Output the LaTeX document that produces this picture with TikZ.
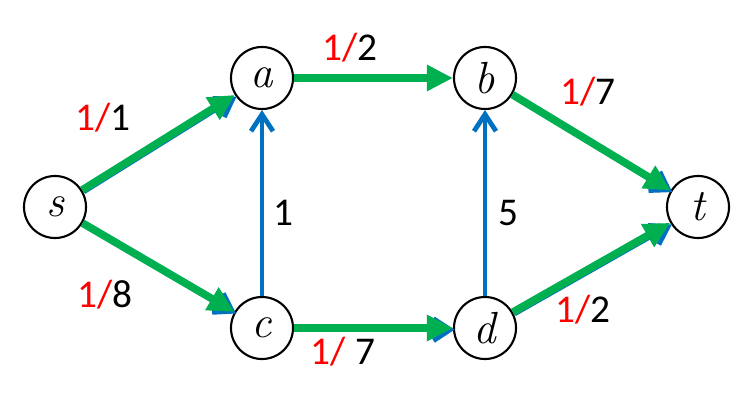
\documentclass[tikz,border=0pt]{standalone}
\usepackage{fontspec}
\newfontfamily\labelfont{Carlito}
\usetikzlibrary{arrows.meta}
\definecolor{flowGreen}{RGB}{0,176,80}
\definecolor{capBlue}{RGB}{0,112,192}
\definecolor{flowRed}{RGB}{255,0,0}
\tikzset{
  vertex/.style={circle,draw=black,line width=1.5pt,minimum size=1.55cm,inner sep=0pt,
    font=\fontsize{32}{32}\selectfont\itshape},
  capedge/.style={draw=capBlue,line width=3.4pt,-{Straight Barb[length=0.42cm,width=0.55cm,line width=3.4pt]}},
  flowedge/.style={draw=flowGreen,line width=5.5pt,-{Triangle[length=0.65cm,width=0.62cm]}},
  weight/.style={font=\labelfont\fontsize{28}{28}\selectfont,inner sep=0pt}
}
\newcommand{\fl}[1]{\textcolor{flowRed}{1/}#1}

\begin{document}
\begin{tikzpicture}[x=0.025cm,y=-0.025cm]
		\useasboundingbox (0,0) rectangle (754,400);
		
		% Vertices
		\begin{scope}[every node/.style={vertex}]
			\node (s) at (55,207) {s};
			\node (a) at (262,78) {a};
			\node (b) at (485,78) {b};
			\node (c) at (262,328) {c};
			\node (d) at (485,328) {d};
			\node (t) at (698,207) {t};
		\end{scope}
		
		% Capacities
		\begin{scope}[transform canvas={xshift=1.2pt,yshift=-1.2pt}]
			\path [capedge] (s) edge (a);
			\path [capedge] (s) edge (c);
			\path [capedge] (b) edge (t);
			\path [capedge] (d) edge (t);
			\path [capedge] (c) edge (d);
		\end{scope}
		\path [capedge] (c) edge (a);
		\path [capedge] (d) edge (b);
		
		% Flow
		\begin{scope}[every edge/.style={flowedge}]
			\path (s) edge (a);
			\path (s) edge (c);
			\path (a) edge (b);
			\path (c) edge (d);
			\path (b) edge (t);
			\path (d) edge (t);
		\end{scope}
		
		% Weights
		\begin{scope}[every node/.style={weight}]
			\node (wsa) at (103,118) {\fl{1}};
			\node (wsc) at (105,295) {\fl{8}};
			\node (wab) at (350,48) {\fl{2}};
			\node (wcd) at (343,352) {\fl{ 7}};
			\node (wbt) at (588,92) {\fl{7}};
			\node (wdt) at (583,310) {\fl{2}};
			\node (wca) at (283,213) {1};
			\node (wdb) at (508,213) {5};
		\end{scope}
	\end{tikzpicture}
\end{document}
